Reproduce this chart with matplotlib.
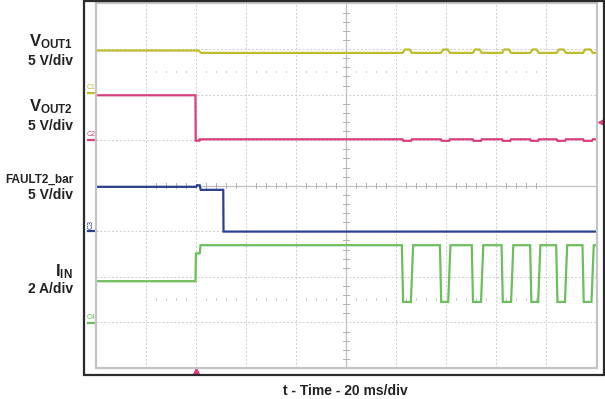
import matplotlib.pyplot as plt
import matplotlib.transforms as mtransforms
from matplotlib.patches import Rectangle

plt.rcParams['font.family'] = ['Liberation Sans', 'DejaVu Sans']
plt.rcParams['mathtext.fontset'] = 'custom'
plt.rcParams['mathtext.rm'] = 'Liberation Sans:bold'
plt.rcParams['mathtext.it'] = 'Liberation Sans:bold'
plt.rcParams['mathtext.bf'] = 'Liberation Sans:bold'

# escala: 20 ms/div, trigger en t = 0
t_min, t_max = -40, 160

# canales: escala (unidad/div), posición de tierra (div), color
ch_tags = ['C1', 'C2', 'C3', 'C4']
ch_scale = [5, 5, 5, 2]
ch_offset = [2.03, 1.01, -0.99, -3.01]
ch_color = ['#bdbd2e', '#d8407e', '#2b3f8e', '#6cbf5c']

# V_OUT1 (V)
vout1_t = [-40, 1.0, 2.2]
vout1_v = [4.69, 4.69, 4.43]
bump_ini = [82.6, 97.9, 110.6, 122.3, 133.5, 144.1, 154.6]
bump_fin = [86.3, 101.5, 114.2, 125.9, 137.0, 147.8, 158.5]
vout1_top = 4.80
vout1_base = 4.43

# V_OUT2 (V)
vout2_t = [-40, -0.1, 0.0, 1.5, 1.6]
vout2_v = [4.88, 4.88, -0.1, -0.1, 0.05]
vout2_base = 0.05
vout2_dip = -0.12

# FAULT2_bar (V)
fault_t = [-40, 0.2, 0.5, 1.6, 2.0, 11.0, 11.1, 160]
fault_v = [4.83, 4.83, 5.0, 5.0, 4.5, 4.5, -0.08, -0.08]

# I_IN (A)
iin_t = [-40, -0.1, 0.1, 1.6, 1.9]
iin_v = [1.83, 1.83, 3.05, 3.05, 3.41]
dip_ini = [82.3, 97.5, 110.2, 122.1, 133.5, 143.9, 154.4]
dip_fin = [86.2, 101.1, 114.2, 126.2, 137.0, 147.7, 158.3]
iin_high = 3.41
iin_low = 0.92

labels = [r'$\mathregular{V_{OUT1}}$', r'$\mathregular{V_{OUT2}}$', 'FAULT2_bar', r'$\mathregular{I_{IN}}$']
label_y = [42, 107, 180, 272]
div_y = [61, 126, 195, 289]
div_txt = ['5 V/div', '5 V/div', '5 V/div', '2 A/div']

# completar trazas con los pulsos
for a, b in zip(bump_ini, bump_fin):
    vout1_t += [a, a + 0.9, b - 0.9, b]
    vout1_v += [vout1_base, vout1_top, vout1_top, vout1_base]
    vout2_t += [a, a + 0.3, b - 0.3, b]
    vout2_v += [vout2_base, vout2_dip, vout2_dip, vout2_base]
vout1_t.append(160); vout1_v.append(vout1_base)
vout2_t.append(160); vout2_v.append(vout2_base)

for a, b in zip(dip_ini, dip_fin):
    iin_t += [a, a + 0.5, b - 0.3, b + 0.6]
    iin_v += [iin_high, iin_low, iin_low, iin_high]
iin_t.append(160); iin_v.append(iin_high)

W, H = 605, 399
fig = plt.figure(figsize=(6.05, 3.99), dpi=100)

# marco exterior
fig.patches.append(Rectangle((84 / W, 1 - 375 / H), 520 / W, 374 / H,
                             transform=fig.transFigure, fill=False,
                             edgecolor='#2b2b2b', lw=1.6))

ax = fig.add_axes([95.5 / W, 1 - 368 / H, 501 / W, 364.5 / H])
ax.set_xlim(t_min, t_max)
ax.set_ylim(-4, 4)
ax.set_xticks(range(-20, 160, 20))
ax.set_yticks([-3, -2, -1, 1, 2, 3])
ax.tick_params(length=0, labelbottom=False, labelleft=False)
ax.grid(True, ls=(0, (2, 2)), color='#cccccc', lw=0.7)
for s in ax.spines.values():
    s.set_color('#c4c4c4')
    s.set_linewidth(1.6)

# ejes centrales con marcas menores
ax.axvline(60, color='#c0c0c0', lw=0.9)
ax.axhline(0, color='#c0c0c0', lw=0.9)
for k in range(-20, 21):
    t = 60 + k * 4
    if k % 5 != 0:
        ax.plot([t, t], [-0.06, 0.06], color='#b0b0b0', lw=0.7)
        ax.plot([t, t], [2.49, 2.52], color='#c4c4c4', lw=0.6)
        ax.plot([t, t], [-2.5, -2.47], color='#c4c4c4', lw=0.6)
for k in range(-20, 21):
    y = k * 0.2
    if k % 5 != 0:
        ax.plot([59, 61], [y, y], color='#b0b0b0', lw=0.7)

# trazas
traces = [(vout1_t, vout1_v), (vout2_t, vout2_v), (fault_t, fault_v), (iin_t, iin_v)]
for i, (tt, vv) in enumerate(traces):
    yy = [ch_offset[i] + v / ch_scale[i] for v in vv]
    ax.plot(tt, yy, color=ch_color[i], lw=1.6, solid_joinstyle='miter')

# marcadores de canal
trans = mtransforms.blended_transform_factory(ax.transAxes, ax.transData)
for i, tag in enumerate(ch_tags):
    ax.plot([-0.014, 0], [ch_offset[i], ch_offset[i]], color=ch_color[i],
            lw=1.6, transform=trans, clip_on=False)
    ax.text(-0.009, ch_offset[i] + 0.04, tag, color=ch_color[i], fontsize=5,
            ha='center', va='bottom', transform=trans, clip_on=False,
            rotation=90 if tag == 'C3' else 0)

# marcadores de trigger
ax.plot([0], [-0.009], marker='^', ms=4, color='#d8407e', clip_on=False,
        transform=mtransforms.blended_transform_factory(ax.transData, ax.transAxes))
ax.plot([1.008], [ch_offset[1] + 2.0 / ch_scale[1]], marker='<', ms=4,
        color='#d8407e', clip_on=False, transform=trans)

# etiquetas
for i in range(4):
    fs = 8.5 if i == 2 else 12
    fig.text(73 / W, 1 - label_y[i] / H, labels[i], ha='right', va='center',
             fontsize=fs, fontweight='bold', color='#222222')
    fig.text(73 / W, 1 - div_y[i] / H, div_txt[i], ha='right', va='center',
             fontsize=10, fontweight='bold', color='#222222')

fig.text(345 / W, 1 - 391 / H, 't - Time - 20 ms/div', ha='center', va='center',
         fontsize=10, fontweight='bold', color='#222222')

plt.savefig('out.png', dpi=100)
